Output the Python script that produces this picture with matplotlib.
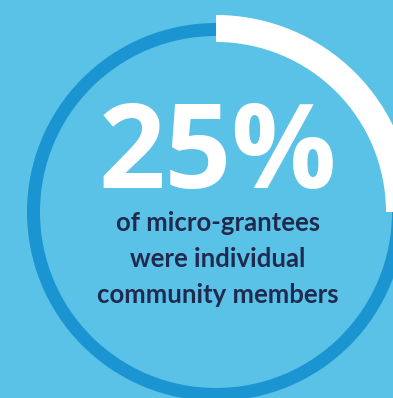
import matplotlib.pyplot as plt

# data
share = 25
rest = 100 - share
big_label = "25%"
caption = ["of micro-grantees", "were individual", "community members"]

bg = "#5bc2e7"
ring_col = "#1b95d2"
navy = "#1f2a4e"

W, H = 393, 398
fig = plt.figure(figsize=(W / 100, H / 100), dpi=100, facecolor=bg)
ax = fig.add_axes([0, 0, 1, 1])
ax.set_facecolor(bg)

cx, cy = 216, H - 212

# thin full ring underneath
ax.pie([100], radius=189, center=(cx, cy), colors=[ring_col],
       wedgeprops=dict(width=13, linewidth=0), startangle=90)

# the 25% arc, clockwise from 12 o'clock
ax.pie([share, rest], radius=197, center=(cx, cy), colors=["white", "none"],
       wedgeprops=dict(width=27, linewidth=0), startangle=90, counterclock=False)

ax.set_xlim(0, W)
ax.set_ylim(0, H)
ax.set_aspect("equal")
ax.axis("off")

ax.text(218, H - 188, big_label, color="white", fontsize=84, fontweight="bold",
        family="Open Sans", ha="center", va="baseline")

for i, line in enumerate(caption):
    ax.text(218, H - (231 + i * 36), line, color=navy, fontsize=18.5,
            fontweight="bold", family="Lato", ha="center", va="baseline")

fig.savefig("out.png", dpi=100, facecolor=bg)
